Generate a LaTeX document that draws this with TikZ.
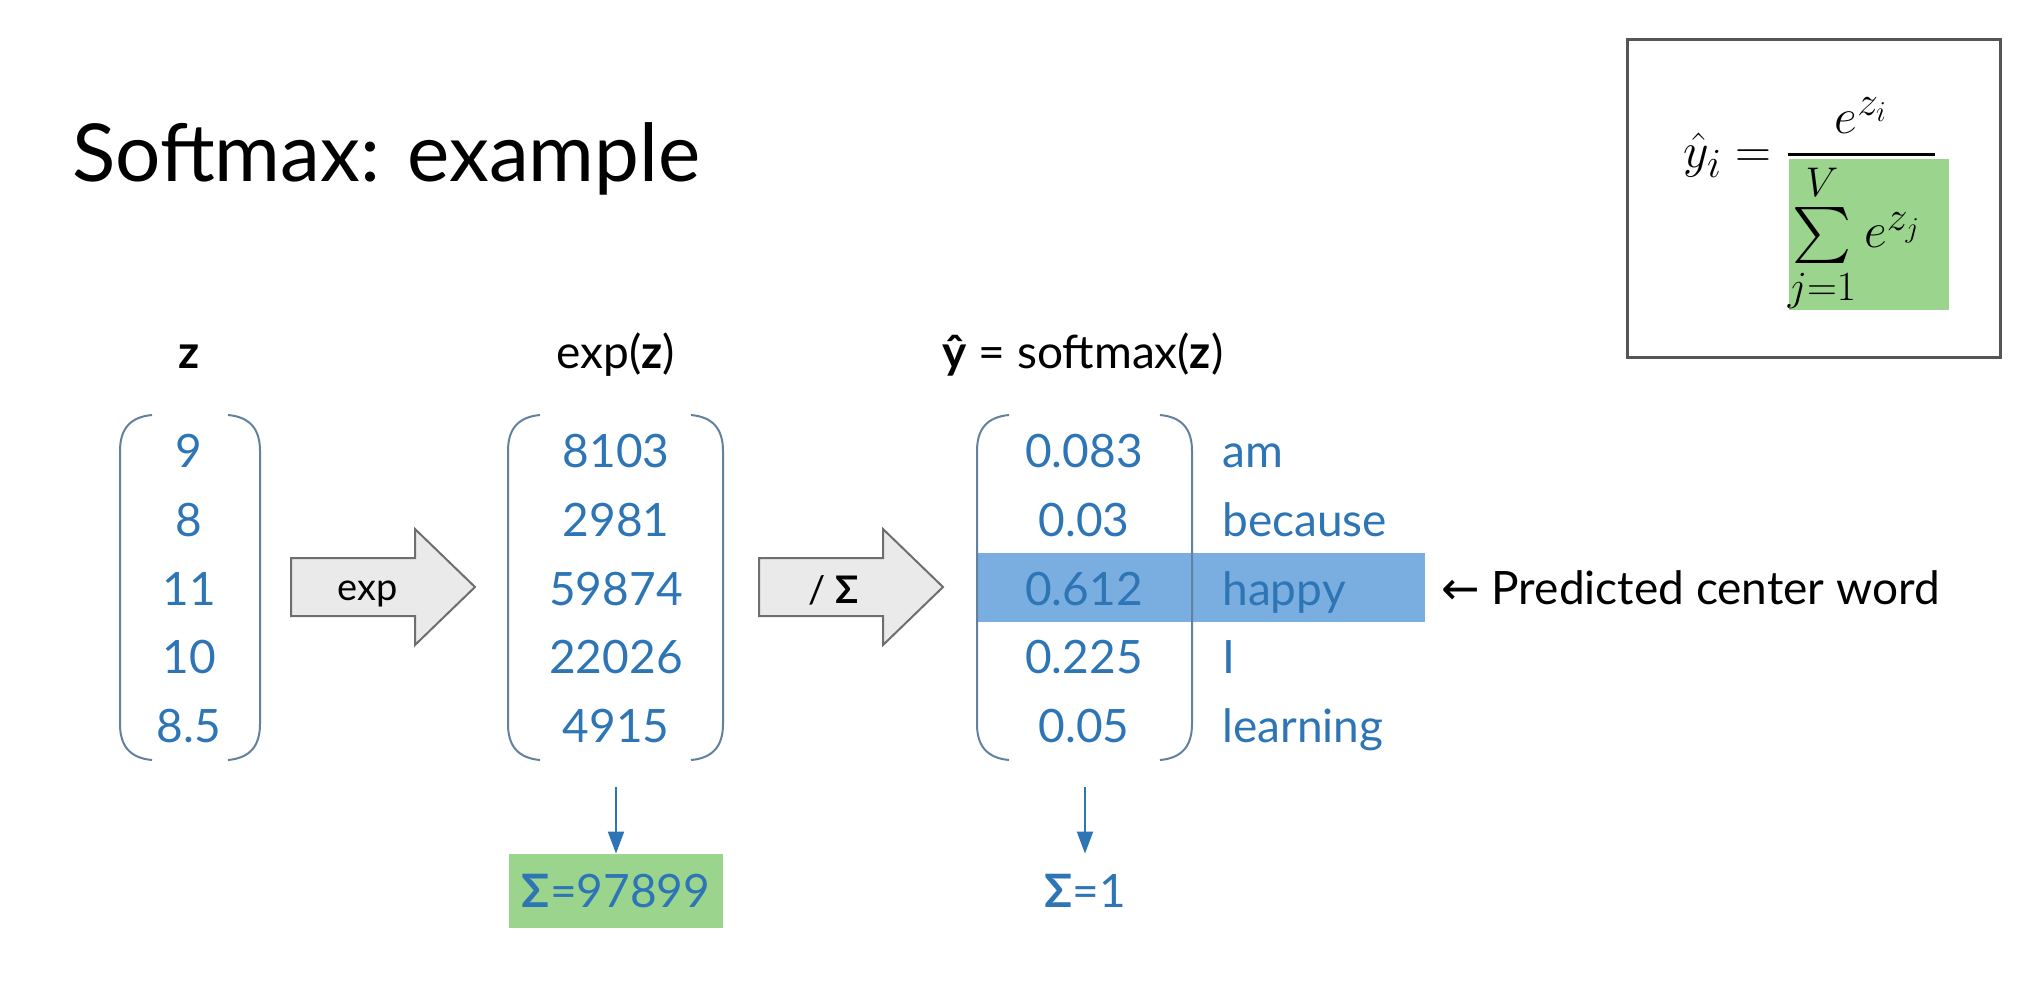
\documentclass[tikz,border=0pt]{standalone}
\usepackage{fontspec}
\setmainfont{Lato}
\newfontfamily\symfont{DejaVu Sans}
% let the large math symbols scale with the surrounding font size
\DeclareFontShape{OMX}{cmex}{m}{n}{<-> cmex10}{}
\usetikzlibrary{arrows.meta}
\definecolor{vblue}{HTML}{2E75B6}
\definecolor{pline}{HTML}{62819F}
\definecolor{band}{HTML}{7AAEE0}
\definecolor{sumgreen}{HTML}{9BD48C}
\definecolor{arrowfill}{HTML}{EAEAEA}
\definecolor{arrowedge}{HTML}{6E6E6E}
\definecolor{boxedge}{HTML}{555555}

\begin{document}
\begin{tikzpicture}[x=0.5pt,y=-0.5pt,
  title/.style={anchor=base west,inner sep=0,font=\fontsize{40}{48}\selectfont},
  head/.style={anchor=base,inner sep=0,font=\fontsize{23}{28}\selectfont},
  val/.style={anchor=base,inner sep=0,text=vblue,font=\fontsize{23}{28}\selectfont},
  word/.style={anchor=base west,inner sep=0,text=vblue,font=\fontsize{23}{28}\selectfont},
  oplabel/.style={anchor=base,inner sep=0,font=\fontsize{19}{23}\selectfont},
  blockarrow/.style={fill=arrowfill,draw=arrowedge,line width=1pt,line join=miter},
  paren/.style={draw=pline,line width=1pt},
  sumbox/.style={minimum width=107pt,minimum height=37pt,inner sep=0,text=vblue,
                 font=\fontsize{23}{28}\selectfont},
  down/.style={draw=vblue,line width=1pt,-{Triangle[length=11pt,width=8pt]}},
  vparen/.pic={\draw[paren] (32,0) .. controls (10,2) and (0,14) .. (0,36)
                -- (0,309) .. controls (0,331) and (10,343) .. (32,345);}
]
\useasboundingbox (0,0) rectangle (2040,993);

% title
\node[title] (title) at (72,181) {Softmax: example};

% formula panel
\draw[draw=boxedge,line width=1.5pt] (1627,39) rectangle (2000,357);
\fill[sumgreen] (1789,159) rectangle (1949,310);
\node[anchor=base west,inner sep=0] (formula) at (1683,167)
  {\fontsize{28}{34}\selectfont$\displaystyle\hat{y}_i=\frac{e^{z_i}}{\sum\limits_{j=1}^{V}e^{z_j}\;}$};

% highlighted row
\fill[band] (977,553) rectangle (1425,622);

% column headings
\node[head] (hz) at (189,368) {\textbf{z}};
\node[head] (hexp) at (616,368) {exp(\textbf{z})};
\node[head] (hsoft) at (1083,368) {\textbf{ŷ} = softmax(\textbf{z})};

% vector z
\pic at (120,415) {vparen};
\pic[xscale=-1] at (260,415) {vparen};
\node[val] (z1) at (189,467) {9};
\node[val] (z2) at (189,536) {8};
\node[val] (z3) at (189,605) {11};
\node[val] (z4) at (189,673) {10};
\node[val] (z5) at (189,742) {8.5};

% exp step
\path[blockarrow] (291,558) -- (415,558) -- (415,529) -- (475,587)
  -- (415,645) -- (415,616) -- (291,616) -- cycle;
\node[oplabel] (opexp) at (368,600) {exp};

% vector exp(z)
\pic at (508,415) {vparen};
\pic[xscale=-1] at (723,415) {vparen};
\node[val] (e1) at (616,467) {8103};
\node[val] (e2) at (616,536) {2981};
\node[val] (e3) at (616,605) {59874};
\node[val] (e4) at (616,673) {22026};
\node[val] (e5) at (616,742) {4915};

% normalisation step
\path[blockarrow] (759,558) -- (883,558) -- (883,529) -- (943,587)
  -- (883,645) -- (883,616) -- (759,616) -- cycle;
\node[oplabel] (opdiv) at (834,603) {/ \textbf{Σ}};

% vector softmax(z)
\pic at (977,415) {vparen};
\pic[xscale=-1] at (1192,415) {vparen};
\node[val] (s1) at (1084,467) {0.083};
\node[val] (s2) at (1084,536) {0.03};
\node[val] (s3) at (1084,605) {0.612};
\node[val] (s4) at (1084,673) {0.225};
\node[val] (s5) at (1084,742) {0.05};
\node[word] (w1) at (1222,467) {am};
\node[word] (w2) at (1222,536) {because};
\node[word] (w3) at (1222,605) {happy};
\node[word] (w4) at (1222,673) {I};
\node[word] (w5) at (1222,742) {learning};

\node[anchor=base west,inner sep=0,font=\fontsize{23}{28}\selectfont] (pred) at (1441,604)
  {{\symfont ←} Predicted center word};

% sums
\node[sumbox,fill=sumgreen] (sumexp) at (616,891) {\textbf{Σ}=97899};
\node[sumbox] (sumsoft) at (1085,891) {\textbf{Σ}=1};
\coordinate (dexp) at (616,787);
\coordinate (dsoft) at (1085,787);
\draw[down] (dexp) -- (sumexp.north);
\draw[down] (dsoft) -- (sumsoft.north);
\end{tikzpicture}
\end{document}
